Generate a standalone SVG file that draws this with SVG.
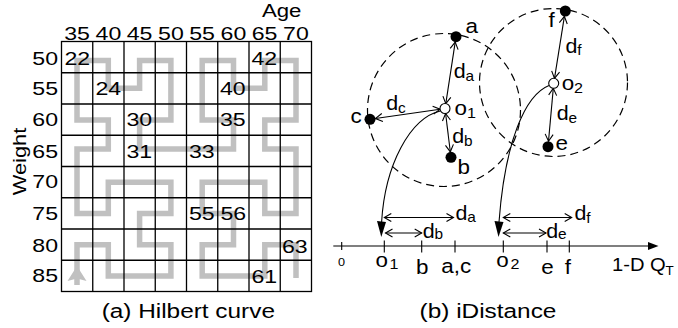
<svg xmlns="http://www.w3.org/2000/svg" width="678" height="328" viewBox="0 0 678 328">
<style>
text{font-family:"Liberation Sans",Arial,sans-serif;fill:#000}
.n{font-size:18.5px}
.l{font-size:19.5px}
.s{font-size:14px}
.grid{stroke:#000;stroke-width:1.3;fill:none}
.hil{stroke:#c0c0c0;stroke-width:5.5;fill:none;stroke-linejoin:miter}
.dash{stroke:#000;stroke-width:1.2;fill:none;stroke-dasharray:8,5}
.ln{stroke:#000;stroke-width:1.1;fill:none}
.arr{stroke:#000;stroke-width:1.1;fill:none;marker-start:url(#v);marker-end:url(#v)}
.dot{fill:#000}
.hol{fill:#fff;stroke:#000;stroke-width:1.1}
</style>
<defs>
<marker id="v" markerUnits="userSpaceOnUse" markerWidth="10" markerHeight="10" refX="8" refY="5" orient="auto-start-reverse" viewBox="0 0 10 10">
<path d="M1,1 L8,5 L1,9" fill="none" stroke="#000" stroke-width="1.1"/>
</marker>
</defs>

<!-- (a) Hilbert curve -->
<g id="hilbert-curve">
<path class="hil" d="M77,285 L77,244.75 L108.3,244.75 L108.3,276 L170.9,276 L170.9,244.75 L139.6,244.75 L139.6,213.5 L170.9,213.5 L170.9,182.2 L108.3,182.2 L108.3,213.5 L77,213.5 L77,182.2 L77,149 L108.3,149 L108.3,120 L77,120 L77,60.5 L108.3,60.5 L108.3,88.3 L139.6,88.3 L139.6,60.5 L170.9,60.5 L170.9,120 L139.6,120 L139.6,149 L233.5,149 L233.5,120 L202.2,120 L202.2,60.5 L233.5,60.5 L233.5,88.3 L264.8,88.3 L264.8,60.5 L296,60.5 L296,120 L264.8,120 L264.8,149 L296,149 L296,213.5 L264.8,213.5 L264.8,182.2 L202.2,182.2 L202.2,213.5 L233.5,213.5 L233.5,244.75 L202.2,244.75 L202.2,276 L264.8,276 L264.8,244.75 L296,244.75 L296,278"/>
<polygon points="77,266 86.5,281 77,278.5 67.5,281" fill="#c0c0c0"/>
</g>
<g id="grid">
<rect class="grid" x="61.5" y="41.5" width="250" height="250"/>
<path class="grid" d="M92.75,41.5V291.5M124,41.5V291.5M155.25,41.5V291.5M186.5,41.5V291.5M217.75,41.5V291.5M249,41.5V291.5M280.25,41.5V291.5M61.5,72.75H311.5M61.5,104H311.5M61.5,135.25H311.5M61.5,166.5H311.5M61.5,197.75H311.5M61.5,229H311.5M61.5,260.25H311.5"/>
</g>
<g id="age-axis" class="n" text-anchor="middle">
<text transform="translate(77.1,39.5) scale(1.25,1)">35</text>
<text transform="translate(108.4,39.5) scale(1.25,1)">40</text>
<text transform="translate(139.6,39.5) scale(1.25,1)">45</text>
<text transform="translate(170.9,39.5) scale(1.25,1)">50</text>
<text transform="translate(202.1,39.5) scale(1.25,1)">55</text>
<text transform="translate(233.4,39.5) scale(1.25,1)">60</text>
<text transform="translate(264.6,39.5) scale(1.25,1)">65</text>
<text transform="translate(295.9,39.5) scale(1.25,1)">70</text>
<text transform="translate(281.7,16.7) scale(1.2,1)">Age</text>
</g>
<g id="weight-axis" class="n" text-anchor="end">
<text transform="translate(58,65) scale(1.25,1)">50</text>
<text transform="translate(58,95) scale(1.25,1)">55</text>
<text transform="translate(58,126) scale(1.25,1)">60</text>
<text transform="translate(58,157.7) scale(1.25,1)">65</text>
<text transform="translate(58,188.3) scale(1.25,1)">70</text>
<text transform="translate(58,220) scale(1.25,1)">75</text>
<text transform="translate(58,251.7) scale(1.25,1)">80</text>
<text transform="translate(58,281.7) scale(1.25,1)">85</text>
<text transform="translate(25.5,161.5) rotate(-90) scale(1.18,1)" text-anchor="middle">Weight</text>
</g>
<g id="cell-values" class="n">
<text transform="translate(64.5,65) scale(1.25,1)">22</text>
<text transform="translate(95.5,95) scale(1.25,1)">24</text>
<text transform="translate(126.5,126) scale(1.25,1)">30</text>
<text transform="translate(126.5,157.7) scale(1.25,1)">31</text>
<text transform="translate(189,158.3) scale(1.25,1)">33</text>
<text transform="translate(220,126) scale(1.25,1)">35</text>
<text transform="translate(220,95) scale(1.25,1)">40</text>
<text transform="translate(251.5,65) scale(1.25,1)">42</text>
<text transform="translate(189,220) scale(1.25,1)">55</text>
<text transform="translate(220.5,220) scale(1.25,1)">56</text>
<text transform="translate(282,253.3) scale(1.25,1)">63</text>
<text transform="translate(251.5,283.3) scale(1.25,1)">61</text>
</g>
<g id="caption-a" class="l" text-anchor="middle">
<text transform="translate(188.3,317.5) scale(1.25,1)">(a) Hilbert curve</text>
</g>

<!-- (b) iDistance -->
<g id="cluster-1">
<circle class="dash" cx="444" cy="110" r="76.5"/>
</g>
<g id="cluster-2">
<circle class="dash" cx="553.5" cy="82.5" r="74"/>
</g>
<g id="connectors">
<path class="arr" d="M445.8,103.6 L455.2,42.1"/>
<path class="arr" d="M440.1,109.2 L375.4,118.5"/>
<path class="arr" d="M445.6,113.5 L450.3,151.8"/>
<path class="arr" d="M554.5,78.4 L564.4,16.4"/>
<path class="arr" d="M553.3,88.3 L548.5,141.2"/>
<path class="ln" d="M440.3,111 C410,118 385,165 381.6,222"/>
<polygon points="381.3,237 377,221 386,222"/>
<path class="ln" d="M549,85.5 C525,95 505,142 499,222"/>
<polygon points="498.5,237 494.5,221 503.5,222"/>
<path class="arr" d="M384.3,217.5 H453.5"/>
<path class="arr" d="M385.5,233 H421.7"/>
<path class="arr" d="M503.3,217.5 H571.7"/>
<path class="arr" d="M503.3,233 H546"/>
</g>
<g id="axis">
<path class="ln" d="M333.3,246 H650"/>
<polygon points="648,242 658.5,246 648,250"/>
<path class="ln" d="M341.7,242V250M384.3,240.5V252.5M421.7,240.5V252.5M455,240.5V252.5M503.3,240.5V252.5M547,240.5V252.5M569.3,240.5V252.5"/>
</g>
<g id="point-a"><circle class="dot" cx="456" cy="36.7" r="5.5"/><text class="l" transform="translate(465.5,33.3) scale(1.15,1)">a</text></g>
<g id="point-b"><circle class="dot" cx="451" cy="157.3" r="5.5"/><text class="l" transform="translate(457.5,173.5) scale(1.15,1)">b</text></g>
<g id="point-c"><circle class="dot" cx="370" cy="119.3" r="5.5"/><text class="l" transform="translate(350.5,123.3) scale(1.15,1)">c</text></g>
<g id="point-e"><circle class="dot" cx="548" cy="146.7" r="5.5"/><text class="l" transform="translate(555.5,150) scale(1.15,1)">e</text></g>
<g id="point-f"><circle class="dot" cx="565.3" cy="11" r="5.5"/><text class="l" transform="translate(548.5,27.3) scale(1.15,1)">f</text></g>
<g id="ref-o1"><circle class="hol" cx="445" cy="108.5" r="5"/><text class="l" transform="translate(454.5,115) scale(1.15,1)">o</text><text class="s" transform="translate(467,118) scale(1.15,1)">1</text></g>
<g id="ref-o2"><circle class="hol" cx="553.7" cy="83.3" r="5"/><text class="l" transform="translate(561.8,90) scale(1.15,1)">o</text><text class="s" transform="translate(574,93) scale(1.15,1)">2</text></g>
<g id="dist-labels">
<text class="l" transform="translate(453.8,78.3) scale(1.1,1)">d</text><text class="s" transform="translate(465.5,80.7) scale(1.1,1)">a</text>
<text class="l" transform="translate(386.2,110) scale(1.1,1)">d</text><text class="s" transform="translate(398,112.7) scale(1.1,1)">c</text>
<text class="l" transform="translate(452.2,143.3) scale(1.1,1)">d</text><text class="s" transform="translate(464,146) scale(1.1,1)">b</text>
<text class="l" transform="translate(565.5,52.7) scale(1.1,1)">d</text><text class="s" transform="translate(577.3,55) scale(1.1,1)">f</text>
<text class="l" transform="translate(556.8,120) scale(1.1,1)">d</text><text class="s" transform="translate(568.6,123.3) scale(1.1,1)">e</text>
<text class="l" transform="translate(455.5,220) scale(1.1,1)">d</text><text class="s" transform="translate(467.3,221.7) scale(1.1,1)">a</text>
<text class="l" transform="translate(422.8,237.7) scale(1.1,1)">d</text><text class="s" transform="translate(434.6,239) scale(1.1,1)">b</text>
<text class="l" transform="translate(574.5,220) scale(1.1,1)">d</text><text class="s" transform="translate(586.3,223.3) scale(1.1,1)">f</text>
<text class="l" transform="translate(546.2,237.7) scale(1.1,1)">d</text><text class="s" transform="translate(558,239) scale(1.1,1)">e</text>
</g>
<g id="axis-labels">
<text transform="translate(338,265.5) scale(1.15,1)" font-size="11">0</text>
<text class="l" transform="translate(375.5,266.5) scale(1.15,1)">o</text><text class="s" transform="translate(389.5,268.5) scale(1.15,1)">1</text>
<text class="l" transform="translate(416,273.5) scale(1.15,1)">b</text>
<text class="l" transform="translate(441.2,272.5) scale(1.15,1)">a,c</text>
<text class="l" transform="translate(496.2,266.5) scale(1.15,1)">o</text><text class="s" transform="translate(510.5,268.5) scale(1.15,1)">2</text>
<text class="l" transform="translate(541.2,273.5) scale(1.15,1)">e</text>
<text class="l" transform="translate(564.7,273.5) scale(1.15,1)">f</text>
<text transform="translate(612,270.5) scale(1.12,1)" font-size="18">1-D Q</text><text transform="translate(665.5,274.5) scale(1.12,1)" font-size="12">T</text>
</g>
<g id="caption-b" class="l" text-anchor="middle">
<text transform="translate(488,317.5) scale(1.25,1)">(b) iDistance</text>
</g>
</svg>
